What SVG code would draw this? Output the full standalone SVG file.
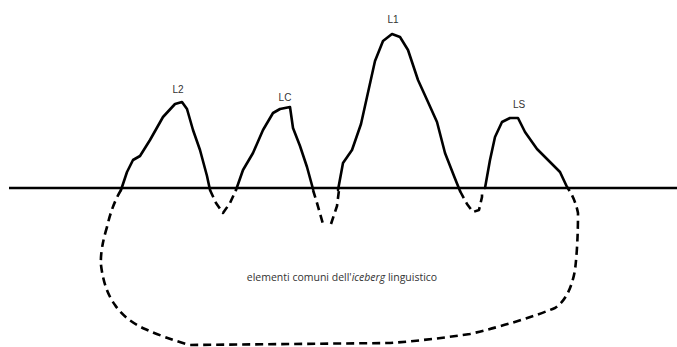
<svg xmlns="http://www.w3.org/2000/svg" width="677" height="347" viewBox="0 0 677 347">
<style>
.solid{fill:none;stroke:#000;stroke-width:2.6;stroke-linejoin:round;stroke-linecap:round}
.dash{fill:none;stroke:#000;stroke-width:2.6;stroke-dasharray:8 5;stroke-linejoin:round}
.lbl{font-family:"Liberation Sans",Arial,sans-serif;font-size:10px;fill:#333;text-anchor:middle}
.cap{font-family:"Open Sans","Liberation Sans",sans-serif;font-size:10.5px;fill:#333;text-anchor:middle}
</style>
<rect width="677" height="347" fill="#fff"/>
<g id="waterline"><line x1="9" y1="188" x2="677" y2="188" stroke="#000" stroke-width="2.6"/></g>
<g id="L2">
<path class="solid" d="M121,190 L127,172 L133,160 L140,156 L150,140 L163,117 L175,104 L182,102 L187,109 L193,130 L200,150 L207,176 L210,190"/>
<text class="lbl" x="178" y="93">L2</text>
</g>
<g id="LC">
<path class="solid" d="M236,190 L243,170 L253,153 L263,130 L273,113 L280,109 L290,107 L293,128 L300,146 L307,167 L313,189"/>
<text class="lbl" x="285" y="101">LC</text>
</g>
<g id="L1">
<path class="solid" d="M338,190 L343,163 L352,150 L361,124 L367,97 L375,61 L383,41 L392,34 L400,37 L408,50 L418,80 L428,102 L437,122 L445,153 L454,176 L460,191"/>
<text class="lbl" x="393" y="23">L1</text>
</g>
<g id="LS">
<path class="solid" d="M485,188 L490,160 L495,137 L502,122 L510,118 L518,118 L525,132 L537,149 L550,162 L560,172 L567,187"/>
<text class="lbl" x="519" y="108">LS</text>
</g>
<g id="underwater">
<path class="dash" d="M210,190 L216,203 L223,213 L230,203 L236,190"/>
<path class="dash" d="M313,190 L317,203 L323,224"/>
<path class="dash" d="M331,224 L337,206 L339,190"/>
<path class="dash" d="M460,191 L467,204 L473,212 L479,210 L482,197 L482,190"/>
<path class="dash" d="M121,190 Q112,205 107,227 Q100,250 101,265 Q104,290 115,305 Q125,320 145,329 Q165,338 190,345 L390,343 Q430,340 470,334 Q520,322 555,308 Q570,298 575,270 Q578,245 578,213 Q575,198 567,187"/>
<text class="cap" x="342" y="281">elementi comuni dell'<tspan font-style="italic">iceberg</tspan> linguistico</text>
</g>
</svg>
